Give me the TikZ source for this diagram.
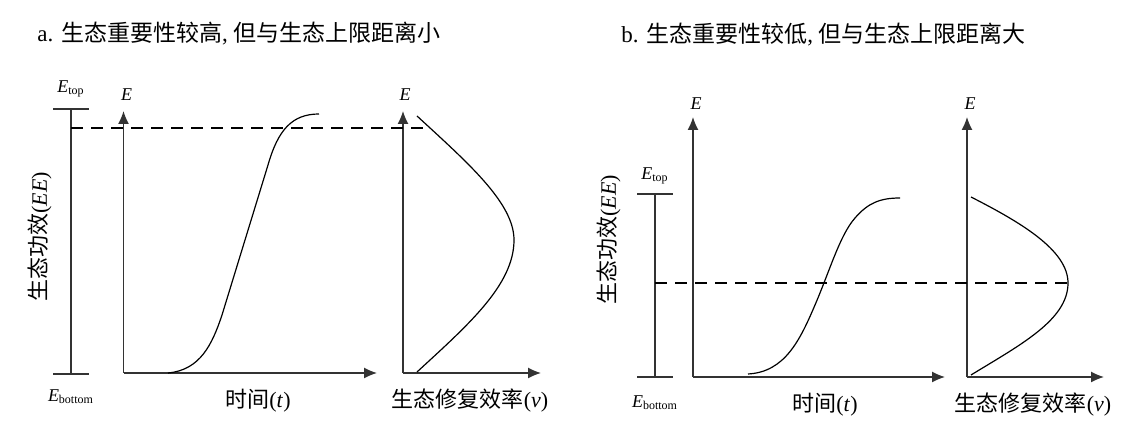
\documentclass[tikz,border=0pt]{standalone}
\usepackage{fontspec}
\setmainfont{Liberation Serif}
\newfontfamily\cjk{Noto Sans CJK SC}
\usetikzlibrary{positioning, arrows.meta}

\begin{document}
\begin{tikzpicture}[x=0.5pt, y=-0.5pt,
	axis/.style = {draw=black!80, line width=0.65pt, -{Latex[length=6.5pt,width=5.5pt]}},
	bar/.style = {draw=black!80, line width=0.65pt},
	limit/.style = {draw=black, line width=1.1pt, dash pattern=on 6pt off 4pt},
	curve/.style = {draw=black, line width=0.6pt},
	title/.style = {anchor=west, inner sep=0pt, font=\fontsize{11.5}{13}\selectfont},
	lab/.style = {inner sep=0pt, font=\fontsize{11}{13}\selectfont},
	elab/.style = {inner sep=0pt, font=\fontsize{9}{10}\selectfont}]
	\useasboundingbox (0,0) rectangle (1140,437);
	% a
	\node[title] (titleA) at (37,34) {a. {\cjk 生态重要性较高}, {\cjk 但与生态上限距离小}};
	\coordinate (topA) at (71,109);
	\coordinate (botA) at (71,374);
	\draw[bar] (topA) -- (botA);
	\draw[bar] ([xshift=-9pt]topA) -- ([xshift=9pt]topA);
	\draw[bar] ([xshift=-9pt]botA) -- ([xshift=9pt]botA);
	\node[elab] (EtopA) [above=6pt of topA] {\textit{E}\textsubscript{top}};
	\node[elab] (EbotA) [below=7.5pt of botA] {\textit{E}\textsubscript{bottom}};
	\node[lab, rotate=90] (effA) at (40,237) {{\cjk 生态功效}(\textit{EE})};
	\coordinate (oA1) at (123.5,373);
	\coordinate (yA1) at (123.5,111);
	\coordinate (xA1) at (377,373);
	\coordinate (oA2) at (403,373);
	\coordinate (yA2) at (403,111);
	\coordinate (xA2) at (541,373);
	\draw[axis] (oA1) -- (yA1);
	\draw[axis] (oA1) -- (xA1);
	\draw[axis] (oA2) -- (yA2);
	\draw[axis] (oA2) -- (xA2);
	\node[elab] (EA1) [above=5pt of yA1, xshift=1.5pt] {\textit{E}};
	\node[elab] (EA2) [above=5pt of yA2, xshift=1pt] {\textit{E}};
	\node[lab] (timeA) at (258,401) {{\cjk 时间}(\textit{t})};
	\node[lab] (rateA) at (470,401) {{\cjk 生态修复效率}(\textit{v})};
	\coordinate (limA) at (71,128);
	\coordinate (limA') at (423,128);
	\draw[limit] (limA) -- (limA');
	\draw[curve] (168,373) .. controls (200,370) and (212,345) .. (222,315)
		-- (268,165) .. controls (278,130) and (292,114) .. (319,114);
	\draw[curve] (417,116) .. controls (468,163) and (514,203) .. (514,240)
		.. controls (514,285) and (468,325) .. (417,372);
	% b
	\node[title] (titleB) at (621,35) {b. {\cjk 生态重要性较低}, {\cjk 但与生态上限距离大}};
	\coordinate (topB) at (655,194);
	\coordinate (botB) at (655,377);
	\draw[bar] (topB) -- (botB);
	\draw[bar] ([xshift=-9pt]topB) -- ([xshift=9pt]topB);
	\draw[bar] ([xshift=-9pt]botB) -- ([xshift=9pt]botB);
	\node[elab] (EtopB) [above=5pt of topB] {\textit{E}\textsubscript{top}};
	\node[elab] (EbotB) [below=9pt of botB] {\textit{E}\textsubscript{bottom}};
	\node[lab, rotate=90] (effB) at (609,240) {{\cjk 生态功效}(\textit{EE})};
	\coordinate (oB1) at (693,377);
	\coordinate (yB1) at (693,117);
	\coordinate (xB1) at (945,377);
	\coordinate (oB2) at (967,377);
	\coordinate (yB2) at (967,117);
	\coordinate (xB2) at (1104,377);
	\draw[axis] (oB1) -- (yB1);
	\draw[axis] (oB1) -- (xB1);
	\draw[axis] (oB2) -- (yB2);
	\draw[axis] (oB2) -- (xB2);
	\node[elab] (EB1) [above=3.5pt of yB1, xshift=1.5pt] {\textit{E}};
	\node[elab] (EB2) [above=3.5pt of yB2, xshift=1.5pt] {\textit{E}};
	\node[lab] (timeB) at (825,405) {{\cjk 时间}(\textit{t})};
	\node[lab] (rateB) at (1033,405) {{\cjk 生态修复效率}(\textit{v})};
	\coordinate (limB) at (655,283);
	\coordinate (limB') at (1068,283);
	\draw[limit] (limB) -- (limB');
	\draw[curve] (748,374) .. controls (785,372) and (800,340) .. (815,305)
		.. controls (830,270) and (840,235) .. (855,218)
		.. controls (868,203) and (880,198) .. (900,198);
	\draw[curve] (971,197) .. controls (1020,222) and (1068,250) .. (1068,283)
		.. controls (1068,320) and (1020,345) .. (971,375);
\end{tikzpicture}
\end{document}
